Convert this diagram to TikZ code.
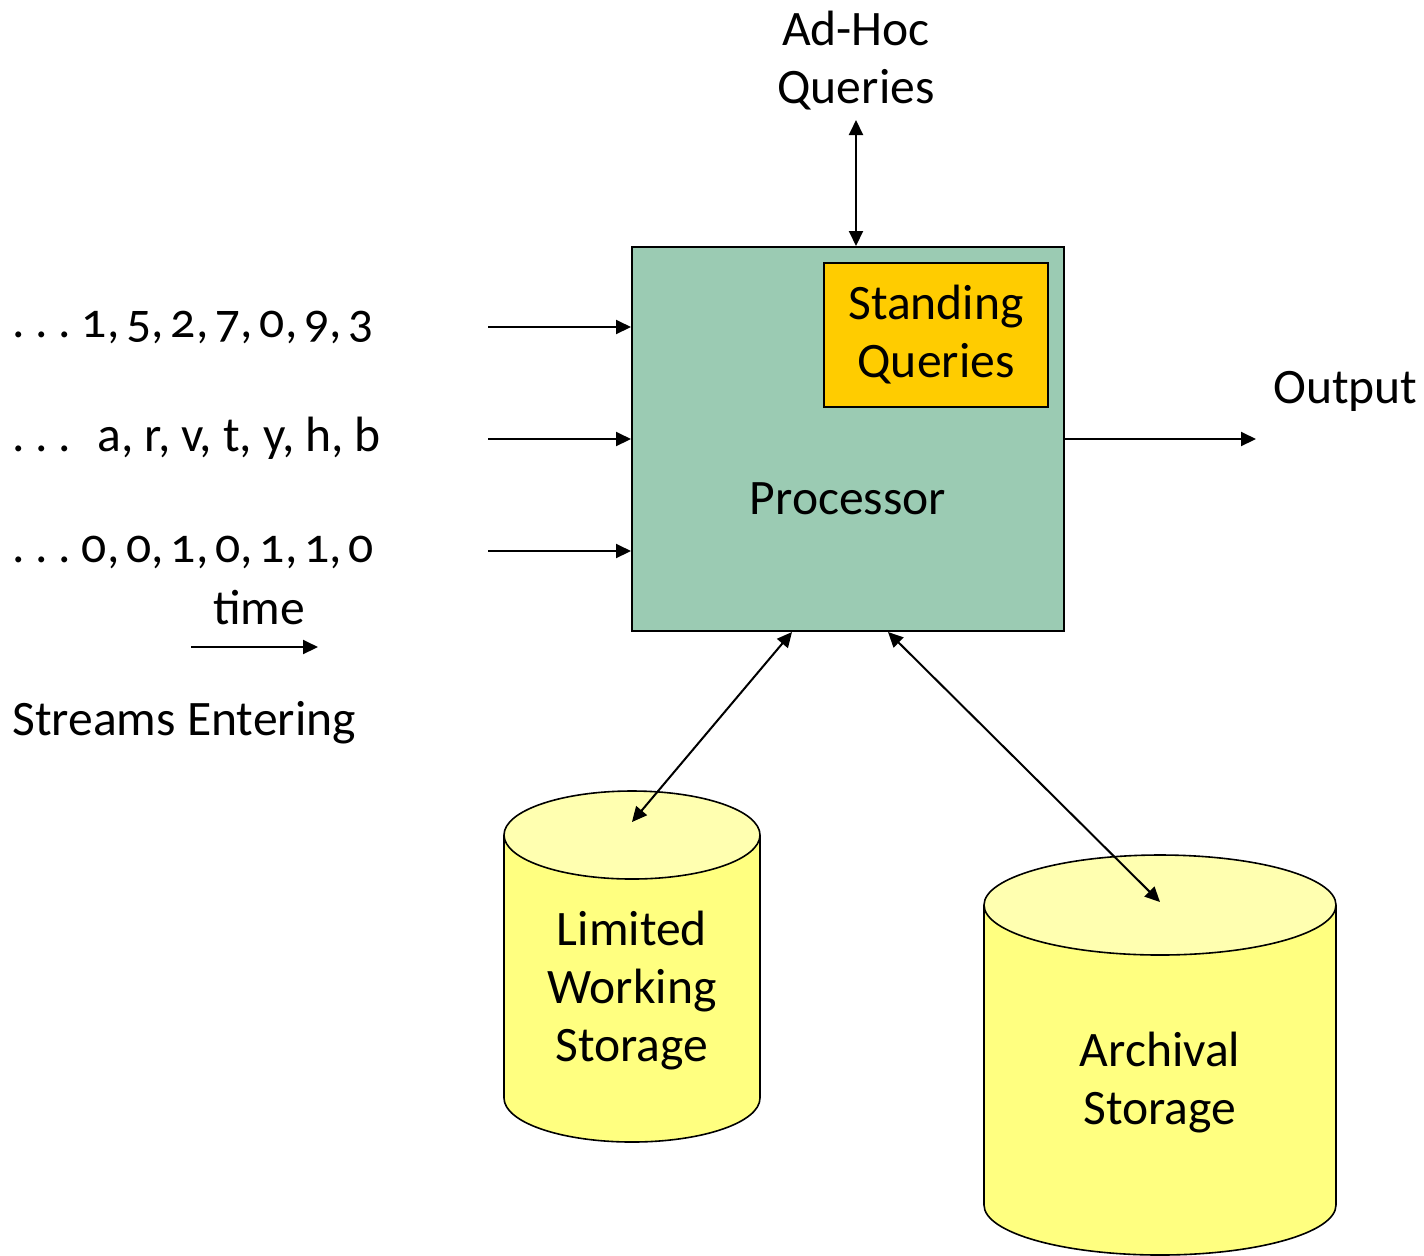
\documentclass[tikz,border=0pt]{standalone}
\usepackage{fontspec}
\setmainfont{Carlito}[Numbers=OldStyle]
\usetikzlibrary{arrows.meta,positioning,calc}
\definecolor{dsProc}{HTML}{9BCBB3}
\definecolor{dsQuery}{HTML}{FFCC00}
\definecolor{dsBody}{HTML}{FFFF80}
\definecolor{dsTop}{HTML}{FFFFB0}
\newcommand{\tightsp}[1][0.14em]{\spaceskip=#1 plus 0.02em\relax}
\tikzset{
  >={Triangle[length=7.5pt,width=7pt]},
  txt/.style={font=\fontsize{24.8}{29}\selectfont, inner sep=0pt, align=center},
  seq/.style={txt, anchor=west},
  procbox/.style={draw, line width=1pt, fill=dsProc, minimum width=216pt,
              minimum height=192pt, inner sep=0pt},
  querybox/.style={draw, line width=1pt, fill=dsQuery, minimum width=112pt,
              minimum height=72pt, inner sep=0pt},
  drum/.style={draw, line width=0.8pt, fill=dsBody},
  drumtop/.style={draw, line width=0.8pt, fill=dsTop},
  flow/.style={->, line width=1pt},
  both/.style={<->, line width=1pt},
}

\begin{document}
\begin{tikzpicture}[x=0.5pt,y=0.5pt]
  \useasboundingbox (0,0) rectangle (1424,-1255);
  % processor
  \node[procbox] (proc) at (848,-439) {};
  \node[querybox,txt] (standing) at (936,-335) {Standing\\Queries};
  \node[txt] (proclbl) at (848,-499) {Processor};
  % ad-hoc queries
  \node[txt] (adhoc) at (856,-61) {Ad-Hoc\\Queries};
  \coordinate (adtip) at (856,-120);
  \draw[both] (adtip) -- (adtip |- proc.north);
  % streams
  \node[seq] (s1) at (12,-327) {\tightsp . . . 1, 5, 2, 7, 0, 9, 3};
  \node[seq] (s2) at (12,-438) {\tightsp . . . \hspace{8pt}\tightsp[0.22em]a, r, v, t, y, h, b};
  \node[seq] (s3) at (12,-552) {\tightsp . . . 0, 0, 1, 0, 1, 1, 0};
  \foreach \i/\y in {1/327,2/439,3/551}{
    \coordinate (in\i) at (488,-\y);
    \draw[flow] (in\i) -- (in\i -| proc.west);}
  \node[txt] (time) at (259,-608) {time};
  \coordinate (t0) at (191,-647);
  \coordinate (t1) at (318,-647);
  \draw[flow] (t0) -- (t1);
  \node[txt,anchor=west] (entering) at (12,-723) {Streams Entering};
  % output
  \node[txt,anchor=west] (out) at (1273,-391) {Output};
  \coordinate (outtip) at (1256,-439);
  \draw[flow] (proc.east) -- (outtip);
  % storage drums
  \foreach \cx/\rx/\ty/\by/\ry in {632/128/835/1098/44,1160/176/905/1205/50}{
    \path[drum] (\cx-\rx,-\ty) -- (\cx-\rx,-\by)
      arc[start angle=180,end angle=360,x radius=\rx,y radius=\ry] -- (\cx+\rx,-\ty);
    \path[drumtop] (\cx,-\ty) ellipse[x radius=\rx,y radius=\ry];}
  \node[txt] (work) at (632,-991) {Limited\\Working\\Storage};
  \node[txt] (arch) at (1160,-1083) {Archival\\Storage};
  \coordinate (worktop) at (632,-822);
  \coordinate (archtop) at (1160,-902);
  \draw[both] ([xshift=-28pt]proc.south) -- (worktop);
  \draw[both] ([xshift=20pt]proc.south) -- (archtop);
\end{tikzpicture}
\end{document}
